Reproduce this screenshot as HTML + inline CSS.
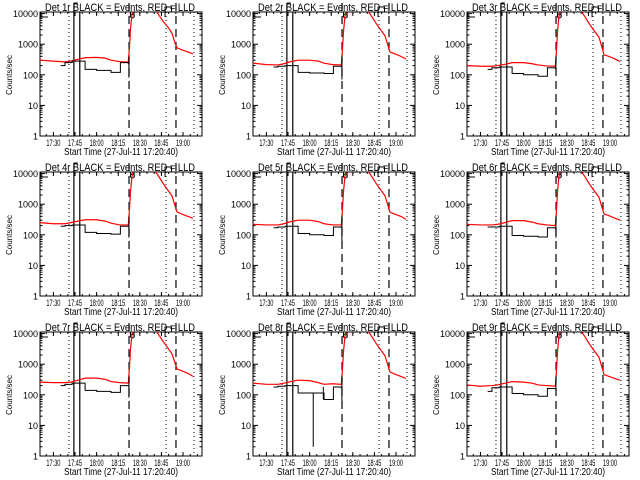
<!DOCTYPE html>
<html><head><meta charset="utf-8"><style>
html,body{margin:0;padding:0;background:#fff;}
svg{display:block;font-family:"Liberation Sans",sans-serif;}
</style></head><body>
<svg id="chart" width="640" height="480" viewBox="0 0 640 480" xmlns="http://www.w3.org/2000/svg">
<rect x="0" y="0" width="640" height="480" fill="#fff"/>
</svg>
<script>
// ---- data ----
const panelNames = ["1r","2r","3r","4r","5r","6r","7r","8r","9r"];
const xTickMinutes = [30,45,60,75,90,105,120];
const xTickLabels = ["17:30","17:45","18:00","18:15","18:30","18:45","19:00"];
const yTickValues = [1,10,100,1000,10000];
const yTickLabels = ["1","10","100","1000","10000"];
const redTimes = [20.7,30,38,42,47,52,60,66,70,76,82,82.8,83.5,84.5,86,90,100,102.5,106.5,109.6,112.3,114.4,115.8,119.3,123.4,126.9];
const red1 = [300,280,265,280,320,360,370,350,300,270,260,800,3000,9000,15000,20000,15000,10000,5300,3600,2300,1100,760,650,560,480];
const red2 = [240,215,210,230,270,300,300,280,240,215,210,700,2500,8000,15000,20000,13000,9000,4500,2800,1900,900,560,480,400,330];
const red3 = [200,190,190,200,220,250,250,230,210,195,190,600,2500,8000,15000,20000,12000,8000,4000,2500,1700,800,450,400,330,270];
const red4 = [250,230,230,250,280,310,310,280,240,210,210,700,2500,8000,15000,20000,13000,9000,4500,2800,1900,900,560,470,400,350];
const red5 = [220,210,210,230,270,300,300,270,230,210,210,700,2500,8000,15000,20000,13000,9000,4500,2800,1900,900,550,470,400,320];
const red6 = [220,210,210,220,250,290,290,260,230,210,200,600,2500,8000,15000,20000,12000,8000,4000,2500,1700,800,480,420,350,300];
const red7 = [260,250,250,260,300,350,350,320,270,250,240,800,3000,9000,15000,20000,15000,10000,5300,3300,2200,1100,700,600,500,400];
const red8 = [240,220,220,240,270,300,290,250,220,230,220,700,2500,8000,15000,20000,13000,9000,4500,2800,1900,900,560,470,400,340];
const red9 = [210,190,200,210,240,270,260,240,210,200,190,600,2500,8000,15000,20000,12000,8000,4000,2500,1700,800,460,400,340,300];
const blackTimes = [35,38,43,52,60,70,76.5,82];
const black1 = [200,250,280,150,140,120,250,230];
const black2 = [180,190,200,120,115,110,190,185];
const black3 = [150,170,180,110,100,90,170,160];
const black4 = [190,200,210,120,110,105,190,185];
const black5 = [170,180,190,110,100,95,180,175];
const black6 = [180,180,190,95,90,85,170,160];
const black7 = [200,220,240,140,130,120,200,195];
const black8 = [180,190,200,115,115,70,180,170];
const black9 = [130,170,180,110,100,90,160,155];
const blackEndLow = [80,70,150,80,60,80,80,60,150];
const vlineDotted = [40.8,108.2,127.6];
const vlineSolid = [44.2,48.3];
const vlineDashed = [82.5,115.1];

const reds=[red1,red2,red3,red4,red5,red6,red7,red8,red9];
const blacks=[black1,black2,black3,black4,black5,black6,black7,black8,black9];
const NS="http://www.w3.org/2000/svg";
const svg=document.getElementById('chart');
function mk(tag,attrs,parent){const e=document.createElementNS(NS,tag);for(const k in attrs)e.setAttribute(k,attrs[k]);parent.appendChild(e);return e;}

const L=40,R=202,T=12,B=136,T0=20.67,K=1.44,DEC=30.6;
function xs(t){return L+(t-T0)*K;}
function ys(v){return B-Math.log10(v)*DEC;}
const offX=[0,213,427], offY=[0,160,320];

panelNames.forEach((nm,i)=>{
  const g=mk('g',{transform:`translate(${offX[i%3]},${offY[Math.floor(i/3)]})`},svg);
  
  
  const cid='clip'+i;
  const cp=mk('clipPath',{id:cid},g); mk('rect',{x:L,y:T,width:R-L,height:B-T},cp);
  const ti=mk('text',{x:45,y:11,'font-size':11,fill:'#000',textLength:150,lengthAdjust:'spacingAndGlyphs'},g);
  ti.textContent='Det '+nm+' BLACK = Events, RED = LLD';
  
  
  const box=mk('rect',{x:L,y:T,width:R-L,height:B-T,fill:'none',stroke:'#000','stroke-width':1},g);
  
  
  yTickValues.forEach((v,j)=>{
    const y=ys(v);
    mk('line',{x1:L,x2:L+5,y1:y,y2:y,stroke:'#000'},g);
    mk('line',{x1:R-5,x2:R,y1:y,y2:y,stroke:'#000'},g);
    const tl=mk('text',{x:38,y:y+3.5,'font-size':9,'text-anchor':'end',fill:'#000'},g);
    tl.textContent=yTickLabels[j];
    
    
    if(j<yTickValues.length-1){for(let m=2;m<10;m++){const ym=ys(v*m);
      mk('line',{x1:L,x2:L+2.5,y1:ym,y2:ym,stroke:'#000'},g);
      mk('line',{x1:R-2.5,x2:R,y1:ym,y2:ym,stroke:'#000'},g);}}
  });
  const yt=mk('text',{x:0,y:0,'font-size':8,'text-anchor':'middle',fill:'#000',transform:'translate(12,75) rotate(-90)',textLength:40,lengthAdjust:'spacingAndGlyphs'},g);
  yt.textContent='Counts/sec';
  
  
  xTickMinutes.forEach((t,j)=>{
    const x=xs(t);
    mk('line',{x1:x,x2:x,y1:B,y2:B-4,stroke:'#000'},g);
    mk('line',{x1:x,x2:x,y1:T,y2:T+4,stroke:'#000'},g);
    const tl=mk('text',{x:x-7,y:146,'font-size':9,fill:'#000',textLength:14,lengthAdjust:'spacingAndGlyphs'},g);
    tl.textContent=xTickLabels[j];
    
    
  });
  for(let t=25;t<133;t+=5){const x=xs(t);if(x<R){mk('line',{x1:x,x2:x,y1:B,y2:B-2,stroke:'#000'},g);mk('line',{x1:x,x2:x,y1:T,y2:T+2,stroke:'#000'},g);}}
  const xt=mk('text',{x:64,y:155,'font-size':10,fill:'#000',textLength:114,lengthAdjust:'spacingAndGlyphs'},g);
  xt.textContent='Start Time (27-Jul-11 17:20:40)';
  
  
  vlineDotted.forEach(t=>{const l=mk('line',{x1:xs(t),x2:xs(t),y1:T,y2:B,stroke:'#000','stroke-dasharray':'1 3'},g);
    
    });
  vlineSolid.forEach((t,j)=>{const l=mk('line',{x1:xs(t),x2:xs(t),y1:j==0?3:T,y2:B,stroke:'#000','stroke-width':1.2},g);
    
    });
  mk('path',{d:`M${xs(vlineSolid[0])},3 h4`,stroke:'#000',fill:'none'},g);
  vlineDashed.forEach(t=>{const l=mk('line',{x1:xs(t),x2:xs(t),y1:3,y2:B,stroke:'#000','stroke-width':1.2,'stroke-dasharray':'8 5'},g);
    
    });
  mk('path',{d:`M41,12 V17 H48 M${xs(83.5)},12 V17 M${xs(86)},12 V17 M${xs(107.5)},17 V7 H${xs(112)} V12`,stroke:'#000',fill:'none'},g);
  mk('circle',{cx:xs(84.8),cy:16,r:2,stroke:'#000',fill:'none'},g);
  const rv=reds[i];
  const rp=mk('polyline',{points:redTimes.map((t,j)=>xs(t)+','+ys(rv[j])).join(' '),fill:'none',stroke:'#f00','stroke-width':1.2,'clip-path':`url(#${cid})`},g);
  
  
  const bv=blacks[i]; let d='';
  blackTimes.forEach((t,j)=>{
    const x=xs(t),y=ys(bv[j]);
    d+= (j==0?'M':'L')+x+','+y+' ';
    const xn=j<blackTimes.length-1?xs(blackTimes[j+1]):xs(82.4);
    d+='L'+xn+','+y+' ';
  });
  d+='L'+xs(82.4)+','+ys(blackEndLow[i])+' L'+xs(82.5)+','+ys(400);
  if(i==7){d+=` M${xs(62.5)},${ys(115)} L${xs(62.5)},${ys(2)} M${xs(69.5)},${ys(70)} L${xs(69.5)},${ys(180)}`;}
  const bp=mk('path',{d:d,fill:'none',stroke:'#000','stroke-width':1,'clip-path':`url(#${cid})`},g);
  
  
});
</script>
</body></html>
